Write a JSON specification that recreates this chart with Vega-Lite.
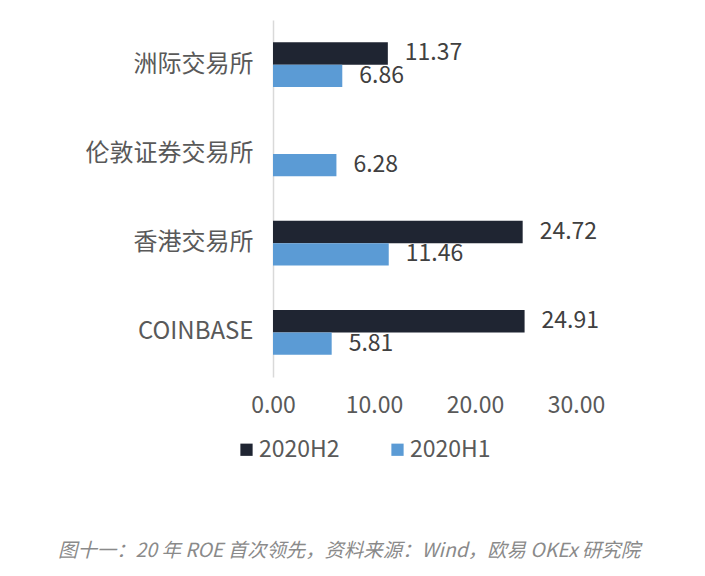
{
  "$schema": "https://vega.github.io/schema/vega-lite/v6.json",
  "width": 303,
  "height": 357,
  "autosize": {"type": "none"},
  "padding": {"left": 273, "top": 20, "right": 129, "bottom": 199},
  "background": "white",
  "config": {
    "font": "Noto Sans CJK SC",
    "view": {"stroke": null}
  },
  "title": {
    "text": "图十一：20 年 ROE 首次领先，资料来源：Wind，欧易 OKEx 研究院",
    "orient": "bottom",
    "anchor": "start",
    "frame": "group",
    "dx": -215,
    "offset": 80,
    "fontSize": 19.4,
    "fontStyle": "italic",
    "fontWeight": "normal",
    "color": "#8a8a8a",
    "font": "Noto Sans CJK SC"
  },
  "data": {
    "values": [
      {"exchange": "洲际交易所", "period": "2020H2", "roe": 11.37},
      {"exchange": "洲际交易所", "period": "2020H1", "roe": 6.86},
      {"exchange": "伦敦证券交易所", "period": "2020H1", "roe": 6.28},
      {"exchange": "香港交易所", "period": "2020H2", "roe": 24.72},
      {"exchange": "香港交易所", "period": "2020H1", "roe": 11.46},
      {"exchange": "COINBASE", "period": "2020H2", "roe": 24.91},
      {"exchange": "COINBASE", "period": "2020H1", "roe": 5.81}
    ]
  },
  "encoding": {
    "y": {
      "field": "exchange",
      "type": "nominal",
      "sort": ["洲际交易所", "伦敦证券交易所", "香港交易所", "COINBASE"],
      "scale": {"paddingInner": 0.5, "paddingOuter": 0.25},
      "axis": {
        "title": null,
        "ticks": false,
        "domain": true,
        "domainColor": "#d9d9d9",
        "domainWidth": 1.5,
        "labelFontSize": 24,
        "labelColor": "#595959",
        "labelPadding": 20
      }
    },
    "yOffset": {
      "field": "period",
      "type": "nominal",
      "sort": ["2020H2", "2020H1"],
      "scale": {"paddingInner": 0, "paddingOuter": 0}
    },
    "x": {
      "field": "roe",
      "type": "quantitative",
      "scale": {"domain": [0, 30], "nice": false},
      "axis": {
        "title": null,
        "values": [0, 10, 20, 30],
        "format": ".2f",
        "grid": false,
        "domain": false,
        "ticks": false,
        "labelFontSize": 23,
        "labelColor": "#595959",
        "labelPadding": 17,
        "labelFlush": false
      }
    }
  },
  "layer": [
    {
      "mark": {"type": "bar"},
      "encoding": {
        "color": {
          "field": "period",
          "type": "nominal",
          "scale": {"domain": ["2020H2", "2020H1"], "range": ["#1f2532", "#5b9bd5"]},
          "legend": {
            "title": null,
            "orient": "none",
            "direction": "horizontal",
            "legendX": -38,
            "legendY": 418,
            "padding": 0,
            "symbolType": "square",
            "symbolSize": 150,
            "symbolStrokeWidth": 0,
            "labelFontSize": 23,
            "labelColor": "#595959",
            "labelOffset": 1,
            "columnPadding": 46
          }
        }
      }
    },
    {
      "mark": {"type": "text", "align": "left", "baseline": "middle", "dx": 17, "fontSize": 23, "color": "#404040"},
      "encoding": {
        "text": {"field": "roe", "type": "quantitative", "format": ".2f"}
      }
    }
  ]
}
